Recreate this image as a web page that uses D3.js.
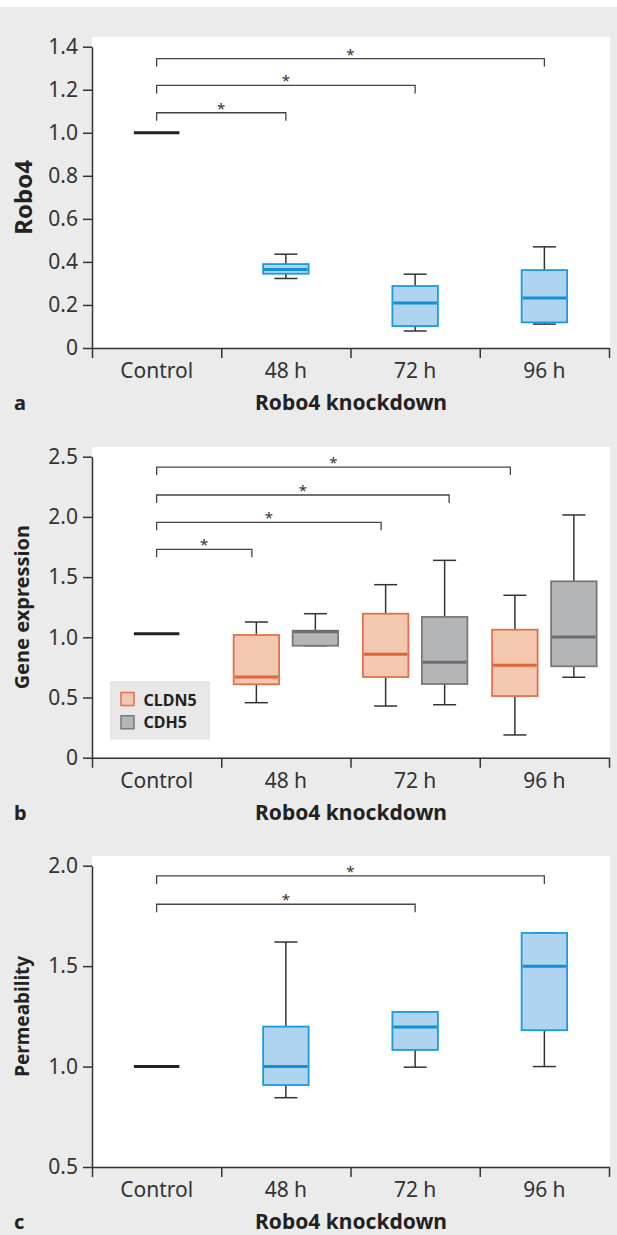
<!DOCTYPE html>
<html>
<head>
<meta charset="utf-8">
<script src="https://cdn.jsdelivr.net/npm/d3@7"></script>
<style>
    body { margin: 0; background: #fff; }
    text { font-family: "Noto Sans", "Open Sans", sans-serif; }
    .axis path, .axis line { stroke: #333; stroke-width: 1.5; }
    .axis text { font-size: 21px; fill: #333; font-family: "Noto Sans", sans-serif; }
</style>
</head>
<body>
<script>
var categories = ["Control", "48 h", "72 h", "96 h"];

// panel a - Robo4
var robo4Min    = [1, 0.323, 0.079, 0.111];
var robo4Q1     = [1, 0.345, 0.102, 0.119];
var robo4Median = [1, 0.365, 0.209, 0.232];
var robo4Q3     = [1, 0.390, 0.288, 0.362];
var robo4Max    = [1, 0.436, 0.343, 0.470];
var robo4Ticks  = [0, 0.2, 0.4, 0.6, 0.8, 1.0, 1.2, 1.4];
var robo4BracketTargets = [1, 2, 3];
var robo4BracketHeights = [1.093, 1.22, 1.345];

// panel b - gene expression
var cldn5Min    = [1.03, 0.457, 0.429, 0.189];
var cldn5Q1     = [1.03, 0.610, 0.670, 0.512];
var cldn5Median = [1.03, 0.670, 0.859, 0.767];
var cldn5Q3     = [1.03, 1.019, 1.196, 1.063];
var cldn5Max    = [1.03, 1.127, 1.437, 1.349];
var cdh5Min     = [1.03, 0.930, 0.440, 0.668];
var cdh5Q1      = [1.03, 0.930, 0.612, 0.759];
var cdh5Median  = [1.03, 1.046, 0.792, 1.002];
var cdh5Q3      = [1.03, 1.055, 1.169, 1.465];
var cdh5Max     = [1.03, 1.196, 1.639, 2.016];
var geneTicks   = [0, 0.5, 1.0, 1.5, 2.0, 2.5];
var geneBracketTargets = [1, 2, 2, 3];
var geneBracketSeries  = ["CLDN5", "CLDN5", "CDH5", "CLDN5"];
var geneBracketHeights = [1.731, 1.955, 2.182, 2.414];

// panel c - permeability
var permMin    = [1, 0.845, 0.997, 1.000];
var permQ1     = [1, 0.908, 1.083, 1.181];
var permMedian = [1, 1.000, 1.197, 1.500];
var permQ3     = [1, 1.199, 1.272, 1.665];
var permMax    = [1, 1.620, 1.272, 1.665];
var permTicks  = [0.5, 1.0, 1.5, 2.0];
var permBracketTargets = [2, 3];
var permBracketHeights = [1.808, 1.949];

var W = 617, H = 1235;
var boxWidth = 45.5, capWidth = 23, groupOffset = 29.5, bracketOffset = 34, legLength = 8;

var blue = { fill: "#aed4f0", stroke: "#1b9ae0", median: "#1190d8" };
var orange = { fill: "#f4c7b1", stroke: "#e3704c", median: "#e0643a" };
var grey = { fill: "#b4b5b7", stroke: "#77787a", median: "#6b6c6e" };

var svg = d3.select("body").append("svg")
    .attr("width", W)
    .attr("height", H);

svg.append("rect")
    .attr("x", 0).attr("y", 7)
    .attr("width", W).attr("height", H - 7)
    .attr("fill", "#eaebea");

var x = d3.scaleBand().domain(categories).range([92, 609]);
var xEdge = d3.scaleLinear().domain([0, categories.length]).range([92, 609]);

function fmt(d) { return d === 0 ? "0" : d3.format(".1f")(d); }

function makeSeries(name, mins, q1s, meds, q3s, maxs, colors, offset) {
    return categories.map(function (c, i) {
        return { name: name, cat: c, i: i, min: mins[i], q1: q1s[i], median: meds[i], q3: q3s[i], max: maxs[i], colors: colors, offset: offset };
    });
}

function drawPanel(p) {
    var y = d3.scaleLinear().domain(p.domain).range([p.yBottom, p.yTop]);
    var g = svg.append("g");

    g.append("rect")
        .attr("x", 92).attr("y", p.top)
        .attr("width", 610 - 92).attr("height", p.yBottom - p.top)
        .attr("fill", "#fff");

    // control line
    var ctrl = p.series[0][0];
    g.append("line")
        .attr("x1", x("Control") + x.bandwidth() / 2 - boxWidth / 2)
        .attr("x2", x("Control") + x.bandwidth() / 2 + boxWidth / 2)
        .attr("y1", y(ctrl.median)).attr("y2", y(ctrl.median))
        .attr("stroke", "#222").attr("stroke-width", 3);

    p.series.forEach(function (s) {
        var rows = s.slice(1);
        var cx = function (d) { return x(d.cat) + x.bandwidth() / 2 + d.offset; };
        var grp = g.append("g").selectAll("g").data(rows).enter().append("g");

        grp.append("line")
            .attr("x1", cx).attr("x2", cx)
            .attr("y1", function (d) { return y(d.max); })
            .attr("y2", function (d) { return y(d.q3); })
            .attr("stroke", "#333").attr("stroke-width", 1.5);
        grp.append("line")
            .attr("x1", cx).attr("x2", cx)
            .attr("y1", function (d) { return y(d.q1); })
            .attr("y2", function (d) { return y(d.min); })
            .attr("stroke", "#333").attr("stroke-width", 1.5);
        grp.append("line")
            .attr("x1", function (d) { return cx(d) - capWidth / 2; })
            .attr("x2", function (d) { return cx(d) + capWidth / 2; })
            .attr("y1", function (d) { return y(d.max); })
            .attr("y2", function (d) { return y(d.max); })
            .attr("stroke", "#333").attr("stroke-width", 1.5);
        grp.append("line")
            .attr("x1", function (d) { return cx(d) - capWidth / 2; })
            .attr("x2", function (d) { return cx(d) + capWidth / 2; })
            .attr("y1", function (d) { return y(d.min); })
            .attr("y2", function (d) { return y(d.min); })
            .attr("stroke", "#333").attr("stroke-width", 1.5);

        grp.append("rect")
            .attr("x", function (d) { return cx(d) - boxWidth / 2; })
            .attr("y", function (d) { return y(d.q3); })
            .attr("width", boxWidth)
            .attr("height", function (d) { return y(d.q1) - y(d.q3); })
            .attr("fill", function (d) { return d.colors.fill; })
            .attr("stroke", function (d) { return d.colors.stroke; })
            .attr("stroke-width", 1.8);
        grp.append("line")
            .attr("x1", function (d) { return cx(d) - boxWidth / 2 + 1; })
            .attr("x2", function (d) { return cx(d) + boxWidth / 2 - 1; })
            .attr("y1", function (d) { return y(d.median); })
            .attr("y2", function (d) { return y(d.median); })
            .attr("stroke", function (d) { return d.colors.median; })
            .attr("stroke-width", 3);
    });

    // significance brackets
    var x0 = x("Control") + x.bandwidth() / 2;
    p.brackets.forEach(function (b) {
        var x1 = x(categories[b.target]) + x.bandwidth() / 2 + b.side * bracketOffset;
        var by = y(b.height);
        g.append("path")
            .attr("d", "M" + x0 + "," + (by + legLength) + "V" + by + "H" + x1 + "V" + (by + legLength))
            .attr("fill", "none")
            .attr("stroke", "#444")
            .attr("stroke-width", 1.3);
        g.append("text")
            .attr("x", (x0 + x1) / 2)
            .attr("y", by + 1)
            .attr("text-anchor", "middle")
            .style("font-size", "15px")
            .style("fill", "#333")
            .text("*");
    });

    var yAxis = d3.axisLeft(y)
        .tickValues(p.ticks)
        .tickFormat(fmt)
        .tickSize(9)
        .tickPadding(5)
        .tickSizeOuter(0);
    g.append("g")
        .attr("class", "y axis")
        .attr("transform", "translate(92,0)")
        .call(yAxis);

    g.append("g")
        .attr("class", "x axis")
        .attr("transform", "translate(0," + p.yBottom + ")")
        .call(d3.axisBottom(xEdge).ticks(categories.length).tickFormat("").tickSize(10).tickSizeOuter(0));

    var xLab = g.append("g")
        .attr("class", "x axis")
        .attr("transform", "translate(0," + p.yBottom + ")")
        .call(d3.axisBottom(x).tickSize(0).tickPadding(15.5));
    xLab.select(".domain").remove();

    g.append("text")
        .attr("x", 351)
        .attr("y", p.yBottom + 62)
        .attr("text-anchor", "middle")
        .style("font-size", "21px")
        .style("font-weight", "bold")
        .style("fill", "#222")
        .text("Robo4 knockdown");

    g.append("text")
        .attr("x", 14)
        .attr("y", p.yBottom + 62)
        .style("font-size", "20px")
        .style("font-weight", "bold")
        .style("fill", "#222")
        .text(p.letter);

    g.append("text")
        .attr("transform", "translate(" + p.titleX + "," + (p.yTop + p.yBottom) / 2 + ") rotate(-90)")
        .attr("text-anchor", "middle")
        .style("font-size", p.titleSize + "px")
        .style("font-weight", "bold")
        .style("fill", "#222")
        .text(p.title);

    return g;
}

drawPanel({
    top: 37, yTop: 46.7, yBottom: 348, domain: [0, 1.4], ticks: robo4Ticks,
    title: "Robo4", titleSize: 24, titleX: 32, letter: "a",
    series: [makeSeries("Robo4", robo4Min, robo4Q1, robo4Median, robo4Q3, robo4Max, blue, 0)],
    brackets: robo4BracketTargets.map(function (t, i) { return { target: t, side: 0, height: robo4BracketHeights[i] }; })
});

var gB = drawPanel({
    top: 447, yTop: 456.7, yBottom: 757.7, domain: [0, 2.5], ticks: geneTicks,
    title: "Gene expression", titleSize: 20, titleX: 29, letter: "b",
    series: [
        makeSeries("CLDN5", cldn5Min, cldn5Q1, cldn5Median, cldn5Q3, cldn5Max, orange, -groupOffset),
        makeSeries("CDH5", cdh5Min, cdh5Q1, cdh5Median, cdh5Q3, cdh5Max, grey, groupOffset)
    ],
    brackets: geneBracketTargets.map(function (t, i) {
        return { target: t, side: geneBracketSeries[i] === "CLDN5" ? -1 : 1, height: geneBracketHeights[i] };
    })
});

// legend for panel b
var legend = gB.append("g");
legend.append("rect")
    .attr("x", 110).attr("y", 681)
    .attr("width", 100).attr("height", 58.5)
    .attr("fill", "#e7e8e7");
[{ name: "CLDN5", c: orange }, { name: "CDH5", c: grey }].forEach(function (d, i) {
    legend.append("rect")
        .attr("x", 121).attr("y", 692.5 + i * 23.3)
        .attr("width", 13).attr("height", 13)
        .attr("fill", d.c.fill)
        .attr("stroke", d.c.stroke)
        .attr("stroke-width", 1.5);
    legend.append("text")
        .attr("x", 143.5).attr("y", 705.7 + i * 22.6)
        .style("font-size", "16px")
        .style("font-weight", "bold")
        .style("fill", "#222")
        .text(d.name);
});

drawPanel({
    top: 856, yTop: 865.7, yBottom: 1167, domain: [0.5, 2.0], ticks: permTicks,
    title: "Permeability", titleSize: 19, titleX: 29, letter: "c",
    series: [makeSeries("Permeability", permMin, permQ1, permMedian, permQ3, permMax, blue, 0)],
    brackets: permBracketTargets.map(function (t, i) { return { target: t, side: 0, height: permBracketHeights[i] }; })
});
</script>
</body>
</html>
